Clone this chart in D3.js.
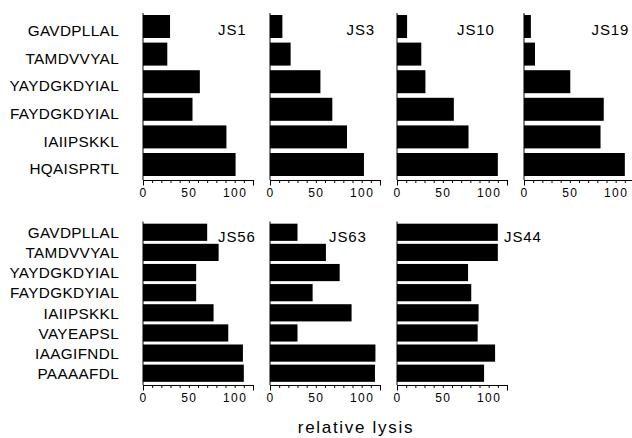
<!DOCTYPE html>
<html>
<head>
<meta charset="utf-8">
<script src="https://cdn.jsdelivr.net/npm/d3@7"></script>
<style>
  html, body { margin: 0; padding: 0; background: #fff; }
  svg text { font-family: "Liberation Sans", Arial, sans-serif; fill: #000; }
</style>
</head>
<body>
<svg id="chart" width="632" height="438"></svg>
<script>
// peptides (rows)
const topPeptides = ["GAVDPLLAL", "TAMDVVYAL", "YAYDGKDYIAL", "FAYDGKDYIAL", "IAIIPSKKL", "HQAISPRTL"];
const bottomPeptides = ["GAVDPLLAL", "TAMDVVYAL", "YAYDGKDYIAL", "FAYDGKDYIAL", "IAIIPSKKL", "VAYEAPSL", "IAAGIFNDL", "PAAAAFDL"];

// relative lysis per clone
const js1 = [29.5, 26.5, 62, 54, 91, 101];
const js3 = [13.5, 22.5, 55, 68, 84, 102.5];
const js10 = [11, 26.5, 31, 62, 78, 110];
const js19 = [7.5, 12, 50.5, 87, 83.5, 110];
const js56 = [70, 82.5, 58, 58, 77, 93, 109, 110];
const js63 = [30, 61, 76, 46.5, 89, 30, 115, 114.5];
const js44 = [110, 110, 77.5, 81, 89, 88, 107, 95];

const xDomain = [0, 120];
const minorTicks = d3.range(0, 121, 10);
const labeledTicks = [0, 50, 100];
const axisTitle = "relative lysis";

// layout
const rows = [
  { peptides: topPeptides, yRange: [12.6, 178.4], lineTop: 13, axisY: 180, pIn: 0.167, pOut: 0.087, labelDy: 9.8, titleY: 35,
    panels: [
      { name: "JS1", values: js1, col: 0, titleDx: 75 },
      { name: "JS3", values: js3, col: 1, titleDx: 76.5 },
      { name: "JS10", values: js10, col: 2, titleDx: 60 },
      { name: "JS19", values: js19, col: 3, titleDx: 67.5 }
    ] },
  { peptides: bottomPeptides, yRange: [221.5, 384], lineTop: 221.5, axisY: 385, pIn: 0.146, pOut: 0.108, labelDy: 5.8, titleY: 242,
    panels: [
      { name: "JS56", values: js56, col: 0, titleDx: 75 },
      { name: "JS63", values: js63, col: 1, titleDx: 59 },
      { name: "JS44", values: js44, col: 2, titleDx: 107 }
    ] }
];

const svg = d3.select("#chart");
const firstX = 143, colStep = 127, axisLen = 110, labelRight = 119;

rows.forEach(row => {
  const y = d3.scaleBand()
    .domain(row.peptides)
    .range(row.yRange)
    .paddingInner(row.pIn)
    .paddingOuter(row.pOut);

  // row labels
  svg.append("g")
    .selectAll("text")
    .data(row.peptides)
    .enter()
    .append("text")
    .attr("x", labelRight)
    .attr("y", d => y(d) + y.bandwidth() / 2 + row.labelDy)
    .attr("text-anchor", "end")
    .style("font-size", "15.3px")
    .style("letter-spacing", "0.35px")
    .text(d => d);

  row.panels.forEach(p => {
    const x0 = firstX + colStep * p.col;
    const x = d3.scaleLinear().domain(xDomain).range([x0, x0 + axisLen]);
    const g = svg.append("g");

    g.selectAll("rect")
      .data(p.values)
      .enter()
      .append("rect")
      .attr("x", x(0))
      .attr("y", (d, i) => y(row.peptides[i]))
      .attr("width", d => x(d) - x(0))
      .attr("height", y.bandwidth())
      .attr("fill", "#000");

    // left axis line
    g.append("line")
      .attr("x1", x(0)).attr("x2", x(0))
      .attr("y1", row.lineTop).attr("y2", row.axisY)
      .attr("stroke", "#000")
      .attr("stroke-width", 1);

    const xAxis = d3.axisBottom(x)
      .tickValues(minorTicks)
      .tickSizeInner(3)
      .tickSizeOuter(5.5)
      .tickFormat(d => labeledTicks.includes(d) ? d : "");

    const ax = g.append("g")
      .attr("transform", `translate(0,${row.axisY})`)
      .call(xAxis);
    ax.select(".domain").attr("stroke", "#000");
    ax.selectAll("line").attr("stroke", "#000");
    ax.selectAll("text")
      .attr("y", 16.8)
      .attr("dy", 0)
      .attr("font-family", null)
      .attr("font-size", null)
      .style("font-size", "12px")
      .style("letter-spacing", "1.5px");

    g.append("text")
      .attr("x", x0 + p.titleDx)
      .attr("y", row.titleY)
      .style("font-size", "15px")
      .style("letter-spacing", "0.9px")
      .text(p.name);
  });
});

svg.append("text")
  .attr("x", 356)
  .attr("y", 433)
  .attr("text-anchor", "middle")
  .style("font-size", "17px")
  .style("letter-spacing", "1.7px")
  .text(axisTitle);
</script>
</body>
</html>
